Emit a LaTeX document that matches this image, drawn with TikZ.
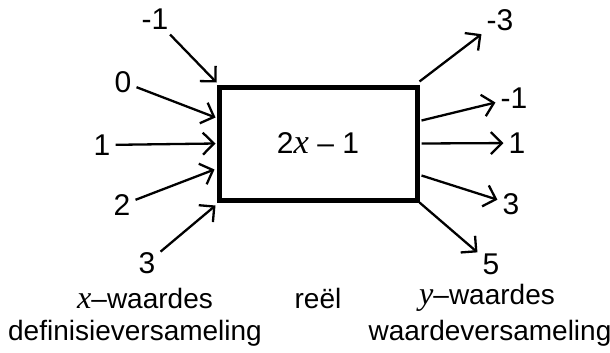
\documentclass[tikz,border=0pt]{standalone}
\usepackage{fontspec}
\setmainfont{Liberation Sans}
\newfontfamily\wisk[Scale=1.15]{Liberation Serif}
\newcommand{\vx}[1]{{\wisk\itshape #1}}
\usetikzlibrary{arrows.meta}
\begin{document}
\begin{tikzpicture}[x=1pt,y=-1pt,
  lbl/.style={font=\fontsize{30}{34}\selectfont, inner sep=5pt},
  woord/.style={font=\fontsize{28}{32}\selectfont, inner sep=0pt},
  pijl/.style={-{Straight Barb[length=11pt,width=22pt,line width=2.3pt]}, line width=2.3pt}]
\useasboundingbox (0,0) rectangle (610,353);
\node[draw, line width=5pt, minimum width=198pt, minimum height=113pt, lbl] (f) at (318,143.5) {2\vx{x} -- 1};

\node[lbl] (xm1) at (155,19) {-1};
\node[lbl] (x0) at (123,82) {0};
\node[lbl] (x1) at (102,145) {1};
\node[lbl] (x2) at (122,205) {2};
\node[lbl] (x3) at (147,263) {3};

\node[lbl] (ym3) at (500,20) {-3};
\node[lbl] (ym1) at (514,98) {-1};
\node[lbl] (y1) at (517,143) {1};
\node[lbl] (y3) at (511,204) {3};
\node[lbl] (y5) at (491,264) {5};

\node[woord] (xw) at (145,298) {\vx{x}--waardes};
\node[woord] (re) at (318,298) {reël};
\node[woord] (yw) at (487,298) {\vx{y}--waardes};
\node[woord] (dv) at (135,333) {definisieversameling};
\node[woord] (wv) at (490,333) {waardeversameling};

\draw[pijl] (xm1) -- ([yshift=2pt]f.north west);
\draw[pijl] (x0) -- ([xshift=-1pt,yshift=26pt]f.west);
\draw[pijl] (x1) -- ([xshift=-1pt]f.west);
\draw[pijl] (x2) -- ([xshift=-2pt,yshift=-26pt]f.west);
\draw[pijl] (x3) -- ([xshift=-1pt,yshift=-3pt]f.south west);

\draw[pijl] ([yshift=3pt]f.north east) -- (ym3);
\draw[pijl] ([xshift=2pt,yshift=23pt]f.east) -- (ym1);
\draw[pijl] ([xshift=2pt]f.east) -- (y1);
\draw[pijl] ([xshift=2pt,yshift=-32pt]f.east) -- (y3);
\draw[pijl] (f.south east) -- (y5);
\end{tikzpicture}
\end{document}
